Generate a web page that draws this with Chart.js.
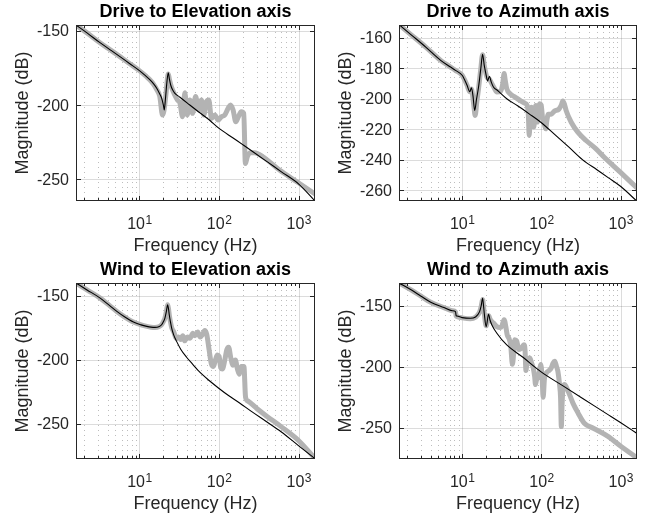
<!DOCTYPE html>
<html><head><meta charset="utf-8">
<script src="https://cdn.jsdelivr.net/npm/chart.js@4.4.1/dist/chart.umd.min.js"></script>
<style>
html,body{margin:0;padding:0;background:#fff;}
#wrap{position:relative;width:655px;height:517px;overflow:hidden;background:#fff;}
canvas{position:absolute;}
</style></head><body>
<div id="wrap">
<canvas id="c1" width="327" height="258" style="left:0px;top:0px"></canvas>
<canvas id="c2" width="328" height="258" style="left:327px;top:0px"></canvas>
<canvas id="c3" width="327" height="259" style="left:0px;top:258px"></canvas>
<canvas id="c4" width="328" height="259" style="left:327px;top:258px"></canvas>
</div>
<script>
// ---------- shared axis data ----------
const xMin = 1.6, xMax = 1600;
const xTickValues = [10, 100, 1000];
const xTickBase = '10';
const xTickExps = ['1', '2', '3'];
const xLabel = 'Frequency (Hz)';
const yLabel = 'Magnitude (dB)';

// ---------- Drive to Elevation axis ----------
const deTitle = 'Drive to Elevation axis';
const deYTicks = [-250, -200, -150];
const deFreqModel = [1.6, 2.2, 3.2, 4.5, 5.7, 7.5, 10, 12, 13.6, 15, 16.5, 18, 19.05, 20, 20.5, 21.2, 22, 23, 23.8, 24.7, 26, 27.9, 32, 40, 55, 75, 100, 150, 200, 266, 400, 600, 1000, 1600];
const deModel = [-146, -151.3, -157.9, -163.4, -167.3, -171.9, -176.7, -180.3, -183, -185.5, -188.6, -192.5, -195.4, -200, -203.2, -196, -186, -178.1, -182.5, -186.4, -189.5, -192, -194.5, -198.6, -204.4, -209.8, -215.6, -222.1, -226.7, -231.3, -238, -244.7, -253.1, -264.5];
const deFreqMeas = [1.6, 2.2, 3.2, 4.5, 5.7, 7.5, 10, 12, 13.6, 15, 16.5, 18, 19.5, 20.3, 21.5, 22.3, 23, 23.8, 25, 28, 30, 32.3, 34.8, 37.2, 39.8, 43, 46.4, 50.7, 55.7, 60.2, 64.4, 69.5, 74.3, 80.3, 88.4, 97.3, 107, 118, 130, 139, 150, 162, 175, 190, 204, 214, 226, 247, 279, 355, 573, 990, 1600];
const deMeas = [-146, -151.3, -157.9, -163.4, -167.3, -171.9, -176.7, -180.3, -183, -185.8, -189.5, -194, -206.6, -204, -193, -184, -179, -182.5, -187, -193.5, -196.5, -198.7, -207.7, -191.6, -206.6, -196.5, -205.5, -194.2, -203.2, -196.5, -206.6, -197.6, -196.5, -208.9, -206.6, -210, -207.7, -206.6, -202.1, -199.9, -203.2, -211.1, -207.7, -204.4, -205.5, -239.2, -234.7, -232, -232, -234.7, -243.7, -252.2, -259.8];

// ---------- Drive to Azimuth axis ----------
const daTitle = 'Drive to Azimuth axis';
const daYTicks = [-260, -240, -220, -200, -180, -160];
const daFreqModel = [1.6, 2.3, 3.48, 5.36, 7.14, 8.25, 10, 11.5, 12.5, 13.1, 13.7, 14.4, 15.2, 16.1, 17.2, 18.1, 19, 20.1, 20.9, 22.1, 23.3, 24.8, 28, 36.5, 50, 70, 98, 150, 220, 331, 500, 700, 1000, 1600];
const daModel = [-151.2, -158.1, -166, -174.7, -179.1, -181.3, -184.5, -190.9, -195.3, -192.7, -198, -207.6, -200, -192.2, -180, -170.7, -178, -184.5, -188.3, -185.2, -189, -192.2, -194.5, -199.9, -204.5, -209.8, -215.3, -223.8, -231.5, -240, -246.5, -251.8, -257.5, -267.2];
const daFreqMeas = [1.6, 2.3, 3.48, 5.36, 7.14, 8.25, 10, 11.5, 12.5, 13.1, 14, 14.6, 15.3, 16.1, 17.2, 18.1, 19, 20.5, 22, 23.7, 25.5, 27.4, 30.7, 32.5, 33.8, 35, 36.5, 40.2, 46.4, 53.6, 61.8, 66.1, 68.5, 70, 72, 74.8, 77.5, 80, 82.5, 84.7, 87, 88.9, 92, 95, 99, 103, 108, 113, 117, 122, 133, 147, 166, 178, 186, 195, 205, 237, 287, 365, 487, 618, 1000, 1600];
const daMeas = [-151.2, -158.1, -166, -174.7, -179.1, -181.3, -184.5, -190.9, -195.3, -193.5, -204, -210.9, -202, -193.3, -180, -171, -178, -185.6, -187, -190, -193, -195.5, -194.9, -190, -183.4, -188, -193.3, -196.6, -198.8, -201, -202.8, -204.3, -212, -224, -212, -205.4, -212, -218.5, -210, -204.3, -210, -215.2, -208, -203.2, -204, -212, -216, -219.6, -214, -210, -210, -207.8, -206.7, -204, -201.4, -203.5, -207.8, -215.3, -221.8, -227.3, -232.8, -238.3, -248.4, -258.5];

// ---------- Wind to Elevation axis ----------
const weTitle = 'Wind to Elevation axis';
const weYTicks = [-250, -200, -150];
const weFreqModel = [1.6, 2.2, 3.22, 4.2, 5.21, 6.5, 8.41, 10.5, 12.4, 14, 15.7, 17.5, 19, 20.2, 20.9, 21.8, 22.6, 23.2, 23.7, 24.5, 25.4, 27, 29.3, 33, 39.1, 47, 57.3, 75, 99, 130, 181, 260, 391, 600, 1000, 1600];
const weModel = [-139.8, -145.2, -151.6, -157.3, -162, -166.2, -170.3, -172.5, -173.7, -174.3, -174.5, -174, -172.4, -169.5, -167.2, -162, -156.8, -160, -164.6, -170, -175, -180.5, -185.4, -191.5, -197.8, -203.5, -209.5, -216, -222, -227.5, -233.5, -240.5, -248, -256, -267, -277];
const weFreqMeas = [1.6, 2.2, 3.22, 4.2, 5.21, 6.5, 8.41, 10.5, 12.4, 14, 15.7, 17.5, 19, 20.2, 20.9, 21.8, 22.6, 23.2, 23.7, 24.5, 25.5, 27, 29, 31, 33, 35, 37, 40, 43, 47, 50, 54, 58, 62, 66, 70, 75, 80, 85, 90, 95, 100, 105, 110, 118, 125, 132, 140, 150, 160, 170, 180, 190, 205, 215, 230, 300, 400, 600, 1000, 1600];
const weMeas = [-139.8, -145.2, -151.6, -157.3, -162, -166.2, -170.3, -172.5, -173.7, -174.3, -174.5, -174, -172.4, -169.5, -167.2, -162, -156.8, -160, -164.6, -170, -175, -178, -183, -182, -184, -181, -185, -182, -183, -179, -181, -178, -182, -180, -177, -180, -192, -203, -205, -200, -196, -197, -206, -207, -200, -192, -190, -198, -204, -200, -207, -211, -205, -205, -229, -232, -238, -244, -252, -263, -277];

// ---------- Wind to Azimuth axis ----------
const waTitle = 'Wind to Azimuth axis';
const waYTicks = [-250, -200, -150];
const waFreqModel = [1.6, 2.3, 3.0, 4.02, 5.9, 7.5, 8.25, 8.4, 8.6, 10, 12.7, 14.7, 16.6, 17.4, 18.1, 18.6, 19, 20.1, 21.5, 22.5, 23.7, 27.4, 36.5, 59, 98, 187, 331, 714, 1000, 1600];
const waModel = [-131.5, -137.3, -142.1, -147.3, -151.6, -154.2, -154.9, -158.2, -158.5, -159.8, -160.4, -159.3, -154.9, -150, -144, -150, -156.3, -167.2, -157.1, -162, -165.8, -172.6, -182.2, -192.5, -204, -215.7, -226, -239.8, -245.9, -254.6];
const waFreqMeas = [1.6, 2.3, 3.0, 4.02, 5.9, 7.5, 8.25, 8.4, 8.6, 10, 12.7, 14.7, 16.6, 17.4, 18.1, 18.6, 19, 20.1, 21.5, 22.5, 23.7, 25.5, 27.4, 30, 31.6, 33.8, 35.5, 37, 39, 41, 43, 44.5, 46, 48.7, 52, 56.2, 60, 62, 63.7, 66, 71.4, 75, 78.7, 82, 84.1, 87, 90.8, 95, 98.1, 102, 105, 109, 115.5, 125, 133, 140, 147, 155, 161, 169, 174, 178, 182, 188, 196, 205, 226, 250, 290, 347, 450, 681, 1000, 1600];
const waMeas = [-131.5, -137.3, -142.1, -147.3, -151.6, -154.2, -155.2, -158.5, -159, -160, -160.8, -159.5, -155.2, -150.5, -145, -150.5, -156.3, -166.5, -158, -161, -163.1, -165, -167.2, -168, -167, -161.5, -167, -174, -177, -183, -198, -190, -178, -179, -186, -184.6, -182, -186, -203, -195, -192.8, -197, -201, -208, -214.6, -210, -209, -202, -198.2, -210, -225, -210, -205, -203, -201, -197, -195.5, -200, -203.7, -214.6, -225, -249, -230, -216, -214.5, -216.5, -222.8, -230, -238, -246.2, -250.3, -256.8, -265, -274.5];

// ---------- styling ----------
const FONT = '"Liberation Sans", Arial, Helvetica, sans-serif';
const TEXT_COLOR = '#262626';
const MEAS_COLOR = '#b3b3b3';
const MODEL_COLOR = '#000000';

function pts(fx, vy) { return fx.map((f, i) => ({ x: f, y: vy[i] })); }

function minorXValues() {
  const out = [];
  for (let e = 0; e <= 3; e++) {
    for (let m = 2; m <= 9; m++) {
      const v = m * Math.pow(10, e);
      if (v > xMin && v < xMax) out.push(v);
    }
  }
  return out;
}

function axesPlugin(cfg) {
  return {
    id: 'matlabAxes',
    beforeDatasetsDraw(chart) {
      const ctx = chart.ctx, a = chart.chartArea, sx = chart.scales.x, sy = chart.scales.y;
      ctx.save();
      ctx.lineWidth = 1;
      // minor x grid (dotted)
      ctx.strokeStyle = 'rgba(38,38,38,0.30)';
      ctx.setLineDash([1, 4]);
      for (const v of minorXValues()) {
        const px = Math.round(sx.getPixelForValue(v)) + 0.5;
        ctx.beginPath(); ctx.moveTo(px, a.top + 2); ctx.lineTo(px, a.bottom); ctx.stroke();
      }
      // major grid (solid)
      ctx.setLineDash([]);
      ctx.strokeStyle = 'rgba(38,38,38,0.16)';
      for (const v of xTickValues) {
        const px = Math.round(sx.getPixelForValue(v)) + 0.5;
        ctx.beginPath(); ctx.moveTo(px, a.top); ctx.lineTo(px, a.bottom); ctx.stroke();
      }
      for (const v of cfg.yTicks) {
        const py = Math.round(sy.getPixelForValue(v)) + 0.5;
        ctx.beginPath(); ctx.moveTo(a.left, py); ctx.lineTo(a.right, py); ctx.stroke();
      }
      ctx.restore();
    },
    afterDatasetsDraw(chart) {
      const ctx = chart.ctx, a = chart.chartArea, sx = chart.scales.x, sy = chart.scales.y;
      ctx.save();
      ctx.strokeStyle = TEXT_COLOR;
      ctx.lineWidth = 1;
      ctx.setLineDash([]);
      const L = Math.round(a.left) + 0.5, R = Math.round(a.right) - 0.5;
      const T = Math.round(a.top) + 0.5, B = Math.round(a.bottom) - 0.5;
      ctx.strokeRect(L, T, R - L, B - T);
      // ticks (inward, on all four sides)
      ctx.beginPath();
      for (const v of minorXValues()) {
        const px = Math.round(sx.getPixelForValue(v)) + 0.5;
        ctx.moveTo(px, B); ctx.lineTo(px, B - 2.5);
        ctx.moveTo(px, T); ctx.lineTo(px, T + 2.5);
      }
      for (const v of xTickValues) {
        const px = Math.round(sx.getPixelForValue(v)) + 0.5;
        ctx.moveTo(px, B); ctx.lineTo(px, B - 4.5);
        ctx.moveTo(px, T); ctx.lineTo(px, T + 4.5);
      }
      for (const v of cfg.yTicks) {
        const py = Math.round(sy.getPixelForValue(v)) + 0.5;
        ctx.moveTo(L, py); ctx.lineTo(L + 4.5, py);
        ctx.moveTo(R, py); ctx.lineTo(R - 4.5, py);
      }
      ctx.stroke();

      // y tick labels
      ctx.fillStyle = TEXT_COLOR;
      ctx.font = '16px ' + FONT;
      ctx.textAlign = 'right';
      ctx.textBaseline = 'middle';
      for (const v of cfg.yTicks) {
        const py = sy.getPixelForValue(v);
        ctx.fillText(String(v), a.left - 7, py + 1);
      }
      // x tick labels with superscript exponent
      ctx.textBaseline = 'alphabetic';
      ctx.textAlign = 'left';
      xTickValues.forEach((v, i) => {
        const px = sx.getPixelForValue(v);
        ctx.font = '16px ' + FONT;
        const wb = ctx.measureText(xTickBase).width;
        ctx.font = '12px ' + FONT;
        const we = ctx.measureText(xTickExps[i]).width;
        const x0 = px - (wb + we) / 2;
        ctx.font = '16px ' + FONT;
        ctx.fillText(xTickBase, x0, a.bottom + 28);
        ctx.font = '12px ' + FONT;
        ctx.fillText(xTickExps[i], x0 + wb + 0.5, a.bottom + 23);
      });
      // x label
      ctx.font = '18px ' + FONT;
      ctx.textAlign = 'center';
      ctx.fillText(xLabel, (a.left + a.right) / 2, a.bottom + 50);
      // y label (rotated)
      ctx.save();
      ctx.translate(a.left - 48, (a.top + a.bottom) / 2);
      ctx.rotate(-Math.PI / 2);
      ctx.textAlign = 'center';
      ctx.fillText(yLabel, 0, 0);
      ctx.restore();
      // title
      ctx.fillStyle = '#000000';
      ctx.font = 'bold 18px ' + FONT;
      ctx.textAlign = 'center';
      ctx.fillText(cfg.title, (a.left + a.right) / 2, a.top - 8);
      ctx.restore();
    }
  };
}

function makeChart(id, cfg) {
  return new Chart(document.getElementById(id), {
    type: 'line',
    data: {
      datasets: [
        { label: 'Model', data: pts(cfg.fModel, cfg.model), borderColor: MODEL_COLOR, borderWidth: 1.1,
          pointRadius: 0, fill: false, cubicInterpolationMode: 'monotone', order: 0 },
        { label: 'Measured', data: pts(cfg.fMeas, cfg.meas), borderColor: MEAS_COLOR, borderWidth: 5,
          pointRadius: 0, fill: false, borderJoinStyle: 'round', borderCapStyle: 'round',
          cubicInterpolationMode: 'monotone', order: 1 }
      ]
    },
    options: {
      responsive: false,
      animation: false,
      devicePixelRatio: 1,
      layout: { padding: cfg.padding },
      plugins: { legend: { display: false }, tooltip: { enabled: false }, title: { display: false } },
      scales: {
        x: { type: 'logarithmic', min: xMin, max: xMax, display: false },
        y: { type: 'linear', min: cfg.yMin, max: cfg.yMax, display: false }
      }
    },
    plugins: [axesPlugin(cfg)]
  });
}

makeChart('c1', { title: deTitle, yTicks: deYTicks, yMin: -264.5, yMax: -146,
  fModel: deFreqModel, model: deModel, fMeas: deFreqMeas, meas: deMeas,
  padding: { left: 76, right: 12, top: 25, bottom: 57 } });
makeChart('c2', { title: daTitle, yTicks: daYTicks, yMin: -267, yMax: -151.5,
  fModel: daFreqModel, model: daModel, fMeas: daFreqMeas, meas: daMeas,
  padding: { left: 72, right: 18, top: 25, bottom: 57 } });
makeChart('c3', { title: weTitle, yTicks: weYTicks, yMin: -277.3, yMax: -139.8,
  fModel: weFreqModel, model: weModel, fMeas: weFreqMeas, meas: weMeas,
  padding: { left: 76, right: 12, top: 25, bottom: 58 } });
makeChart('c4', { title: waTitle, yTicks: waYTicks, yMin: -275.5, yMax: -131.5,
  fModel: waFreqModel, model: waModel, fMeas: waFreqMeas, meas: waMeas,
  padding: { left: 72, right: 18, top: 25, bottom: 58 } });
</script>
</body></html>
